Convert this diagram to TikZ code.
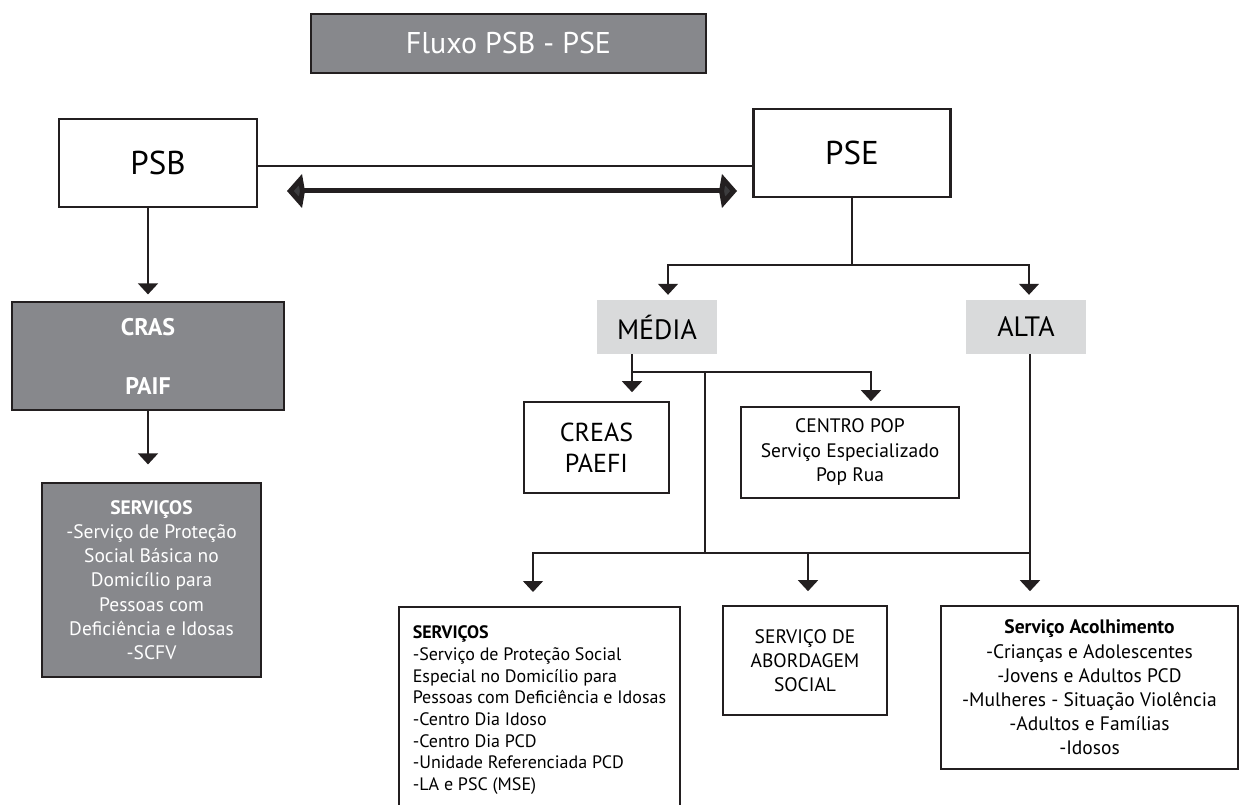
\documentclass[tikz,border=0pt]{standalone}
\usepackage{fontspec}
\setmainfont{PT Sans}
\usepackage{xcolor}
\usetikzlibrary{positioning, arrows.meta}
\definecolor{darkfill}{RGB}{135,136,140}
\definecolor{lightfill}{RGB}{217,218,219}
\definecolor{inkgray}{RGB}{35,31,32}
\definecolor{headgray}{RGB}{60,60,62}

\begin{document}
\begin{tikzpicture}[x=1pt,y=-1pt]
\tikzstyle{darkbox}=[draw=inkgray, fill=darkfill, text=white, line width=1.2pt, inner sep=0pt]
\tikzstyle{whitebox}=[draw=inkgray, fill=white, line width=1.6pt, inner sep=0pt]
\tikzstyle{levelbox}=[fill=lightfill, inner sep=0pt, minimum width=120pt, minimum height=54pt, font=\fontsize{28}{32}\selectfont]
\tikzstyle{link}=[draw=inkgray, line width=1.4pt]
\tikzstyle{flow}=[link, -{Triangle[width=20pt,length=11pt]}]
\useasboundingbox (0,0) rectangle (1240,805);
\clip (0,0) rectangle (1240,805);

\node[darkbox, minimum width=395pt, minimum height=59pt, font=\fontsize{30}{36}\selectfont] (title) at (508.5,43.5) {Fluxo PSB - PSE};
\node[whitebox, line width=2.6pt, minimum width=198pt, minimum height=88pt, font=\fontsize{33}{38}\selectfont] (psb) at (158,163) {PSB};
\node[whitebox, line width=2.6pt, minimum width=197pt, minimum height=88pt, font=\fontsize{33}{38}\selectfont] (pse) at (852,153) {PSE};
\node[darkbox, minimum width=272pt, minimum height=108pt, align=center, font=\bfseries\fontsize{24}{59}\selectfont] (cras) at (148,356) {CRAS\\PAIF};
\node[darkbox, minimum width=219pt, minimum height=194pt, align=center, font=\fontsize{19.5}{24.2}\selectfont] (servb) at (151.5,580) {\textbf{SERVIÇOS}\\-Serviço de Proteção\\Social Básica no\\Domicílio para\\Pessoas com\\Deficiência e Idosas\\-SCFV};
\node[levelbox] (media) at (657,327) {MÉDIA};
\node[levelbox] (alta) at (1026,327) {ALTA};
\node[whitebox, minimum width=145pt, minimum height=91pt, align=center, font=\fontsize{26}{31}\selectfont] (creas) at (596.5,447.5) {CREAS\\PAEFI};
\node[whitebox, minimum width=218pt, minimum height=91pt, align=center, font=\fontsize{19.5}{24.5}\selectfont] (centro) at (850,452.5) {CENTRO POP\\Serviço Especializado\\Pop Rua};
\node[whitebox, anchor=north west, minimum width=269pt, align=left, inner xsep=14pt, inner ysep=19pt, font=\fontsize{18}{21.7}\selectfont] (servesp) at (398,606) {\textbf{SERVIÇOS}\\-Serviço de Proteção Social\\Especial no Domicílio para\\Pessoas com Deficiência e Idosas\\-Centro Dia Idoso\\-Centro Dia PCD\\-Unidade Referenciada PCD\\-LA e PSC (MSE)};
\node[whitebox, minimum width=164pt, minimum height=109pt, align=center, font=\fontsize{19.5}{24}\selectfont] (abord) at (805,660.5) {SERVIÇO DE\\ABORDAGEM\\SOCIAL};
\node[whitebox, minimum width=297pt, minimum height=163pt, align=center, font=\fontsize{19.5}{24.2}\selectfont] (acolh) at (1089.5,687.5) {\textbf{Serviço Acolhimento}\\-Crianças e Adolescentes\\-Jovens e Adultos PCD\\-Mulheres - Situação Violência\\-Adultos e Famílias\\-Idosos};

\coordinate (dblleft) at (287,191);
\coordinate (dblright) at (737,191);
\coordinate (psesplit) at (852,265);
\coordinate (mediasplit) at (632,372);
\coordinate (mediajoin) at (705,372);
\coordinate (lowsplit) at (705,553);
\coordinate (altajoin) at (1030,553);

\draw[flow, shorten >=7pt] (psb.south -| cras.north) -- (cras.north);
\draw[link, line width=2.4pt] ([yshift=-3pt]psb.east) -- ([yshift=-3pt]psb.east -| pse.west);
\draw[draw=inkgray, line width=5pt, {Kite[length=18pt,width=34pt,inset=3pt,fill=headgray]}-{Kite[length=18pt,width=34pt,inset=3pt,fill=headgray]}] (dblleft) -- (dblright);
\draw[flow, shorten >=18pt] (cras.south) -- (cras.south |- servb.north);
\draw[link] (pse.south) -- (psesplit);
\draw[flow, shorten >=5pt] (psesplit) -| ([xshift=11pt]media.north);
\draw[flow, shorten >=5pt] (psesplit) -| ([xshift=3pt]alta.north);
\draw[link] (media.south -| mediasplit) -- (mediasplit);
\draw[flow, shorten >=9pt] (mediasplit) -- (creas.north -| mediasplit);
\draw[flow, shorten >=5pt] (mediasplit) -| ([xshift=21pt]centro.north);
\draw[link] (mediajoin) -- (lowsplit);
\draw[link] (lowsplit) -- (altajoin);
\draw[flow, shorten >=14pt] ([xshift=4pt]alta.south) -- (acolh.north -| altajoin);
\draw[flow, shorten >=14pt] (lowsplit) -| ([xshift=135pt]servesp.north west);
\draw[flow, shorten >=14pt] (lowsplit) -| ([xshift=3pt]abord.north);
\end{tikzpicture}
\end{document}
